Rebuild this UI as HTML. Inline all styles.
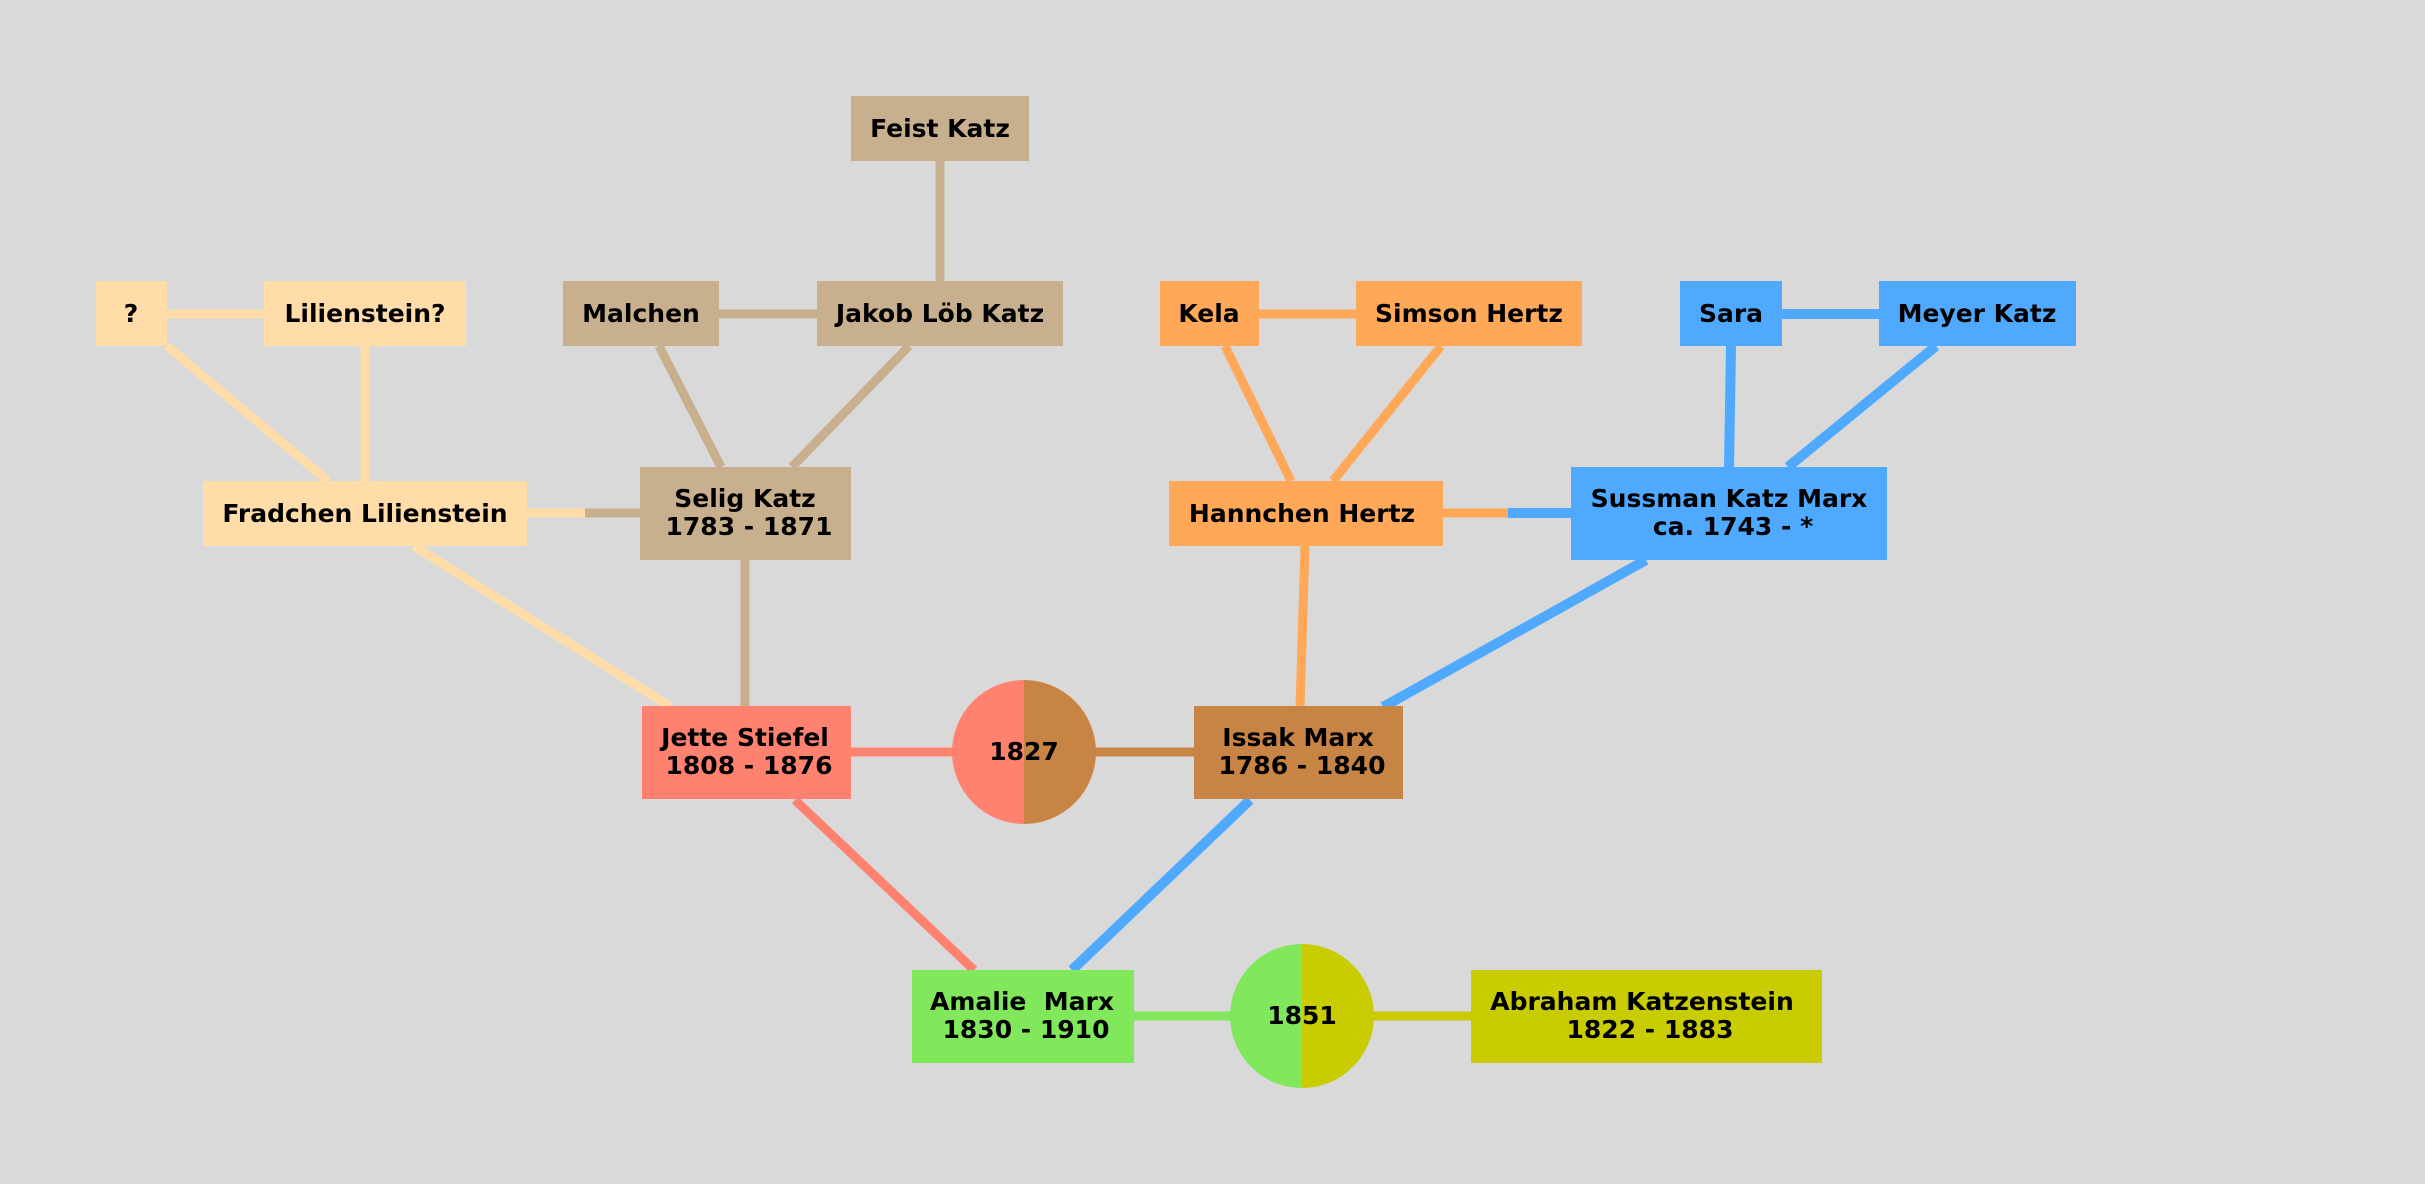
<!DOCTYPE html>
<html><head><meta charset="utf-8"><style>html,body{margin:0;padding:0;background:#d9d9d9}svg{display:block}text{font-family:"DejaVu Sans","Liberation Sans",sans-serif;font-weight:bold;font-size:25px;fill:#000;text-anchor:middle}</style></head>
<body>
<svg width="2425" height="1184" viewBox="0 0 2425 1184" xmlns="http://www.w3.org/2000/svg">
<rect width="2425" height="1184" fill="#d9d9d9"/>
<g stroke-width="9" fill="none">
<line x1="940" y1="161" x2="940" y2="281" stroke="#c8b08f"/>
<line x1="167" y1="314" x2="264" y2="314" stroke="#ffdca8"/>
<line x1="719" y1="314" x2="817" y2="314" stroke="#c8b08f"/>
<line x1="659" y1="346" x2="721" y2="467" stroke="#c8b08f"/>
<line x1="909" y1="346" x2="792" y2="467" stroke="#c8b08f"/>
<line x1="167" y1="346" x2="328" y2="481" stroke="#ffdca8"/>
<line x1="365" y1="346" x2="365" y2="481" stroke="#ffdca8"/>
<line x1="527" y1="513" x2="585" y2="513" stroke="#ffdca8"/>
<line x1="585" y1="513" x2="640" y2="513" stroke="#c8b08f"/>
<line x1="745" y1="560" x2="745" y2="707" stroke="#c8b08f"/>
<line x1="414" y1="546" x2="671" y2="707" stroke="#ffdca8"/>
<line x1="851" y1="752" x2="960" y2="752" stroke="#ff8170"/>
<line x1="1090" y1="752" x2="1194" y2="752" stroke="#c88445"/>
<line x1="1259" y1="314" x2="1356" y2="314" stroke="#ffa858"/>
<line x1="1225" y1="346" x2="1291" y2="481" stroke="#ffa858"/>
<line x1="1441" y1="346" x2="1333" y2="481" stroke="#ffa858"/>
<line x1="1443" y1="513" x2="1508" y2="513" stroke="#ffa858"/>
<line x1="1305" y1="546" x2="1300" y2="707" stroke="#ffa858"/>
<line x1="795" y1="800" x2="974" y2="970" stroke="#ff8170"/>
<line x1="1134" y1="1016" x2="1240" y2="1016" stroke="#80e85a"/>
<line x1="1364" y1="1016" x2="1471" y2="1016" stroke="#c8cc00"/>
</g>
<g stroke-width="10" stroke="#4faaff" fill="none">
<line x1="1508" y1="513" x2="1571" y2="513"/>
<line x1="1782" y1="314" x2="1879" y2="314"/>
<line x1="1731" y1="346" x2="1729" y2="467"/>
<line x1="1936" y1="346" x2="1788" y2="467"/>
<line x1="1646" y1="560" x2="1383" y2="707"/>
<line x1="1250" y1="800" x2="1072" y2="970"/>
</g>
<rect x="851" y="96" width="178" height="65" fill="#c8b08f"/><text x="940" y="137">Feist Katz</text>
<rect x="96" y="281" width="71" height="65" fill="#ffdca8"/><text x="131" y="322">?</text>
<rect x="264" y="281" width="202" height="65" fill="#ffdca8"/><text x="365" y="322">Lilienstein?</text>
<rect x="563" y="281" width="156" height="65" fill="#c8b08f"/><text x="641" y="322">Malchen</text>
<rect x="817" y="281" width="246" height="65" fill="#c8b08f"/><text x="940" y="322">Jakob Löb Katz</text>
<rect x="1160" y="281" width="99" height="65" fill="#ffa858"/><text x="1209" y="322">Kela</text>
<rect x="1356" y="281" width="226" height="65" fill="#ffa858"/><text x="1469" y="322">Simson Hertz</text>
<rect x="1680" y="281" width="102" height="65" fill="#4faaff"/><text x="1731" y="322">Sara</text>
<rect x="1879" y="281" width="197" height="65" fill="#4faaff"/><text x="1977" y="322">Meyer Katz</text>
<rect x="203" y="481" width="324" height="65" fill="#ffdca8"/><text x="365" y="522">Fradchen Lilienstein</text>
<rect x="640" y="467" width="211" height="93" fill="#c8b08f"/><text x="745" y="507">Selig Katz</text><text x="749" y="535">1783 - 1871</text>
<rect x="1169" y="481" width="274" height="65" fill="#ffa858"/><text x="1302" y="522">Hannchen Hertz</text>
<rect x="1571" y="467" width="316" height="93" fill="#4faaff"/><text x="1729" y="507">Sussman Katz Marx</text><text x="1733" y="535">ca. 1743 - *</text>
<rect x="642" y="706" width="209" height="93" fill="#ff8170"/><text x="745" y="746">Jette Stiefel</text><text x="749" y="774">1808 - 1876</text>
<path d="M1024 680 A72 72 0 0 0 1024 824 Z" fill="#ff8170"/><path d="M1024 680 A72 72 0 0 1 1024 824 Z" fill="#c88445"/><text x="1024" y="760">1827</text>
<rect x="1194" y="706" width="209" height="93" fill="#c88445"/><text x="1298" y="746">Issak Marx</text><text x="1302" y="774">1786 - 1840</text>
<rect x="912" y="970" width="222" height="93" fill="#80e85a"/><text x="1022" y="1010" xml:space="preserve">Amalie  Marx</text><text x="1026" y="1038">1830 - 1910</text>
<path d="M1302 944 A72 72 0 0 0 1302 1088 Z" fill="#80e85a"/><path d="M1302 944 A72 72 0 0 1 1302 1088 Z" fill="#c8cc00"/><text x="1302" y="1024">1851</text>
<rect x="1471" y="970" width="351" height="93" fill="#c8cc00"/><text x="1642" y="1010">Abraham Katzenstein</text><text x="1650" y="1038">1822 - 1883</text>
</svg>
</body></html>
